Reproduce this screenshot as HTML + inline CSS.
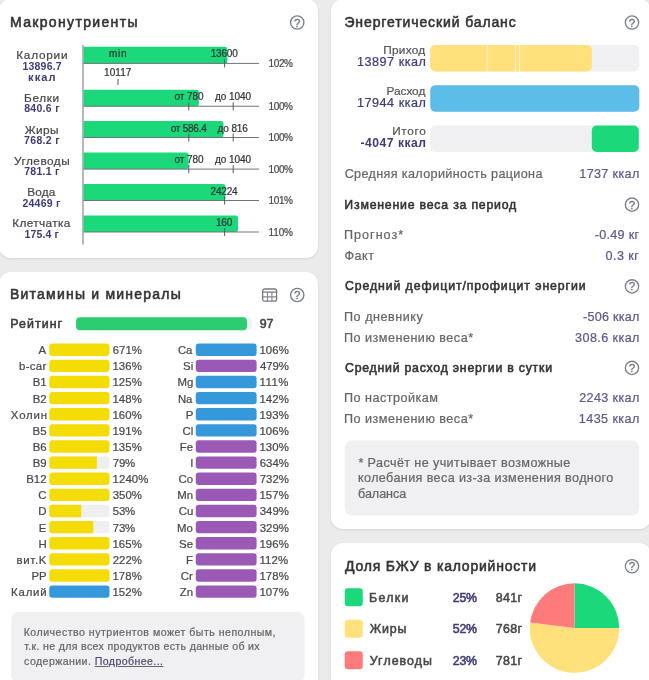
<!DOCTYPE html><html lang="ru"><head><meta charset="utf-8"><title>Статистика</title><style>
html,body{margin:0;padding:0;}
body{width:649px;height:680px;overflow:hidden;background:#ebebeb;font-family:"Liberation Sans", sans-serif;position:relative;}
.t{position:absolute;white-space:nowrap;line-height:1;}
.help{position:absolute;width:14px;height:14px;font-size:11.6px;line-height:14.6px;text-align:center;color:#6f747c;-webkit-text-stroke:0.3px #6f747c;}
</style></head><body>
<div style="position:absolute;left:-1.50px;top:-1.50px;width:319.25px;height:259.50px;background:#fff;border-radius:12px;box-shadow:0 1px 2.5px rgba(0,0,0,0.10);"></div>
<div style="position:absolute;left:331.00px;top:-1.50px;width:319.50px;height:530.25px;background:#fff;border-radius:12px;box-shadow:0 1px 2.5px rgba(0,0,0,0.10);"></div>
<div style="position:absolute;left:-1.50px;top:272.00px;width:319.25px;height:428.00px;background:#fff;border-radius:12px;box-shadow:0 1px 2.5px rgba(0,0,0,0.10);"></div>
<div style="position:absolute;left:331.00px;top:542.80px;width:319.50px;height:157.20px;background:#fff;border-radius:12px;box-shadow:0 1px 2.5px rgba(0,0,0,0.10);"></div>
<svg style="position:absolute;left:0;top:0" width="649" height="680" viewBox="0 0 649 680"><circle cx="297.25" cy="22.50" r="6.65" fill="none" stroke="#7b8088" stroke-width="1.35"/><rect x="82.50" y="45.00" width="1.00" height="199.50" fill="#72747c"/><path d="M83.50 46.80H224.85A2.5 2.5 0 0 1 227.35 49.30V60.90A2.5 2.5 0 0 1 224.85 63.40H83.50V46.80Z" fill="#1bd97b"/><rect x="83.50" y="62.90" width="175.50" height="1.00" fill="#72747c"/><path d="M83.50 89.65H196.40A2.5 2.5 0 0 1 198.90 92.15V103.75A2.5 2.5 0 0 1 196.40 106.25H83.50V89.65Z" fill="#1bd97b"/><rect x="83.50" y="105.75" width="175.50" height="1.00" fill="#72747c"/><path d="M83.50 120.90H221.00A2.5 2.5 0 0 1 223.50 123.40V135.00A2.5 2.5 0 0 1 221.00 137.50H83.50V120.90Z" fill="#1bd97b"/><rect x="83.50" y="137.00" width="175.50" height="1.00" fill="#72747c"/><path d="M83.50 152.50H186.10A2.5 2.5 0 0 1 188.60 155.00V166.60A2.5 2.5 0 0 1 186.10 169.10H83.50V152.50Z" fill="#1bd97b"/><rect x="83.50" y="168.60" width="175.50" height="1.00" fill="#72747c"/><path d="M83.50 183.90H223.00A2.5 2.5 0 0 1 225.50 186.40V198.00A2.5 2.5 0 0 1 223.00 200.50H83.50V183.90Z" fill="#1bd97b"/><rect x="83.50" y="200.00" width="175.50" height="1.00" fill="#72747c"/><path d="M83.50 215.40H235.50A2.5 2.5 0 0 1 238.00 217.90V229.50A2.5 2.5 0 0 1 235.50 232.00H83.50V215.40Z" fill="#1bd97b"/><rect x="83.50" y="231.50" width="175.50" height="1.00" fill="#72747c"/><rect x="224.10" y="59.40" width="1.00" height="8.00" fill="#585a64"/><rect x="117.50" y="78.75" width="1.00" height="6.25" fill="#585a64"/><rect x="188.30" y="102.25" width="1.00" height="8.00" fill="#585a64"/><rect x="232.70" y="102.25" width="1.00" height="8.00" fill="#585a64"/><rect x="188.30" y="133.50" width="1.00" height="8.00" fill="#585a64"/><rect x="232.70" y="133.50" width="1.00" height="8.00" fill="#585a64"/><rect x="188.30" y="165.10" width="1.00" height="8.00" fill="#585a64"/><rect x="232.70" y="165.10" width="1.00" height="8.00" fill="#585a64"/><rect x="224.10" y="196.50" width="1.00" height="8.00" fill="#585a64"/><rect x="224.10" y="228.00" width="1.00" height="8.00" fill="#585a64"/><circle cx="297.25" cy="295.00" r="6.65" fill="none" stroke="#7b8088" stroke-width="1.35"/><rect x="76.10" y="317.30" width="175.90" height="12.90" rx="4" fill="#f2f2f2"/><rect x="76.10" y="317.30" width="170.90" height="12.90" rx="4" fill="#2ecc71"/><rect x="49.25" y="343.50" width="60.25" height="12.40" rx="3" fill="#f4dd06"/><rect x="49.25" y="359.63" width="60.25" height="12.40" rx="3" fill="#f4dd06"/><rect x="49.25" y="375.76" width="60.25" height="12.40" rx="3" fill="#f4dd06"/><rect x="49.25" y="391.89" width="60.25" height="12.40" rx="3" fill="#f4dd06"/><rect x="49.25" y="408.02" width="60.25" height="12.40" rx="3" fill="#f4dd06"/><rect x="49.25" y="424.15" width="60.25" height="12.40" rx="3" fill="#f4dd06"/><rect x="49.25" y="440.28" width="60.25" height="12.40" rx="3" fill="#f4dd06"/><rect x="49.25" y="456.41" width="60.25" height="12.40" rx="3" fill="#efefef"/><path d="M52.25 456.41H96.85V468.81H52.25A3.0 3.0 0 0 1 49.25 465.81V459.41A3.0 3.0 0 0 1 52.25 456.41Z" fill="#f4dd06"/><rect x="49.25" y="472.54" width="60.25" height="12.40" rx="3" fill="#f4dd06"/><rect x="49.25" y="488.67" width="60.25" height="12.40" rx="3" fill="#f4dd06"/><rect x="49.25" y="504.80" width="60.25" height="12.40" rx="3" fill="#efefef"/><path d="M52.25 504.80H81.18V517.20H52.25A3.0 3.0 0 0 1 49.25 514.20V507.80A3.0 3.0 0 0 1 52.25 504.80Z" fill="#f4dd06"/><rect x="49.25" y="520.93" width="60.25" height="12.40" rx="3" fill="#efefef"/><path d="M52.25 520.93H93.23V533.33H52.25A3.0 3.0 0 0 1 49.25 530.33V523.93A3.0 3.0 0 0 1 52.25 520.93Z" fill="#f4dd06"/><rect x="49.25" y="537.06" width="60.25" height="12.40" rx="3" fill="#f4dd06"/><rect x="49.25" y="553.19" width="60.25" height="12.40" rx="3" fill="#f4dd06"/><rect x="49.25" y="569.32" width="60.25" height="12.40" rx="3" fill="#f4dd06"/><rect x="49.25" y="585.45" width="60.25" height="12.40" rx="3" fill="#3498db"/><rect x="195.75" y="343.50" width="60.85" height="12.40" rx="3" fill="#3498db"/><rect x="195.75" y="359.63" width="60.85" height="12.40" rx="3" fill="#9b59b6"/><rect x="195.75" y="375.76" width="60.85" height="12.40" rx="3" fill="#3498db"/><rect x="195.75" y="391.89" width="60.85" height="12.40" rx="3" fill="#3498db"/><rect x="195.75" y="408.02" width="60.85" height="12.40" rx="3" fill="#3498db"/><rect x="195.75" y="424.15" width="60.85" height="12.40" rx="3" fill="#3498db"/><rect x="195.75" y="440.28" width="60.85" height="12.40" rx="3" fill="#9b59b6"/><rect x="195.75" y="456.41" width="60.85" height="12.40" rx="3" fill="#9b59b6"/><rect x="195.75" y="472.54" width="60.85" height="12.40" rx="3" fill="#9b59b6"/><rect x="195.75" y="488.67" width="60.85" height="12.40" rx="3" fill="#9b59b6"/><rect x="195.75" y="504.80" width="60.85" height="12.40" rx="3" fill="#9b59b6"/><rect x="195.75" y="520.93" width="60.85" height="12.40" rx="3" fill="#9b59b6"/><rect x="195.75" y="537.06" width="60.85" height="12.40" rx="3" fill="#9b59b6"/><rect x="195.75" y="553.19" width="60.85" height="12.40" rx="3" fill="#9b59b6"/><rect x="195.75" y="569.32" width="60.85" height="12.40" rx="3" fill="#9b59b6"/><rect x="195.75" y="585.45" width="60.85" height="12.40" rx="3" fill="#9b59b6"/><rect x="11.00" y="612.00" width="293.50" height="70.00" rx="7" fill="#f0f0f2"/><circle cx="632.00" cy="22.50" r="6.65" fill="none" stroke="#7b8088" stroke-width="1.35"/><rect x="430.25" y="45.00" width="209.05" height="26.50" rx="5" fill="#f0f0f2"/><rect x="430.25" y="85.25" width="209.05" height="26.50" rx="5" fill="#f0f0f2"/><rect x="430.25" y="125.50" width="209.05" height="26.50" rx="5" fill="#f0f0f2"/><rect x="430.25" y="45.00" width="161.55" height="26.50" rx="5" fill="#ffe07a"/><rect x="486.70" y="45.00" width="0.80" height="26.50" fill="rgba(255,255,255,0.85)"/><rect x="515.30" y="45.00" width="0.80" height="26.50" fill="rgba(255,255,255,0.85)"/><rect x="519.20" y="45.00" width="0.80" height="26.50" fill="rgba(255,255,255,0.85)"/><rect x="430.25" y="85.25" width="209.05" height="26.50" rx="5" fill="#5bbde8"/><rect x="591.80" y="125.50" width="47.00" height="26.50" rx="5" fill="#1bd97b"/><circle cx="632.00" cy="204.65" r="6.65" fill="none" stroke="#7b8088" stroke-width="1.35"/><circle cx="632.00" cy="286.40" r="6.65" fill="none" stroke="#7b8088" stroke-width="1.35"/><circle cx="632.00" cy="367.90" r="6.65" fill="none" stroke="#7b8088" stroke-width="1.35"/><rect x="344.75" y="440.60" width="294.45" height="74.80" rx="7" fill="#f0f0f2"/><circle cx="632.00" cy="566.25" r="6.65" fill="none" stroke="#7b8088" stroke-width="1.35"/><rect x="344.75" y="588.25" width="18.00" height="18.00" rx="3" fill="#1bd97b"/><rect x="344.75" y="619.75" width="18.00" height="18.00" rx="3" fill="#ffe07a"/><rect x="344.75" y="651.25" width="18.00" height="18.00" rx="3" fill="#ff7b7b"/><path d="M574.5 628.1L574.50 583.35A44.75 44.75 0 0 1 619.25 628.10Z" fill="#1bd97b"/><path d="M574.5 628.1L619.25 628.10A44.75 44.75 0 1 1 530.10 622.49Z" fill="#ffe07a"/><path d="M574.5 628.1L530.10 622.49A44.75 44.75 0 0 1 574.50 583.35Z" fill="#ff7b7b"/></svg>
<div class="help" style="left:290.25px;top:15.50px;">?</div>
<div class="help" style="left:290.25px;top:288.00px;">?</div>
<svg style="position:absolute;left:261px;top:287px" width="17" height="16" viewBox="0 0 17 16" fill="none" stroke="#777a80" stroke-width="1.3"><path d="M1.6 9.9H15.6M6.5 5.1V14.2M10.9 5.1V14.2" stroke="#83858b" stroke-width="1.1"/><rect x="1.6" y="2" width="14" height="12.2" rx="2"/><path d="M1.6 5.1H15.6"/></svg>
<div class="help" style="left:625.00px;top:15.50px;">?</div>
<div class="help" style="left:625.00px;top:197.65px;">?</div>
<div class="help" style="left:625.00px;top:279.40px;">?</div>
<div class="help" style="left:625.00px;top:360.90px;">?</div>
<div class="help" style="left:625.00px;top:559.25px;">?</div>
<div class="t" style="left:10.00px;top:15.00px;font-size:14px;color:#333;-webkit-text-stroke:0.55px #333;letter-spacing:1.338px;">Макронутриенты</div>
<div class="t" style="left:268.55px;top:59.00px;font-size:10px;color:#484848;-webkit-text-stroke:0.22px #484848;letter-spacing:-0.381px;">102%</div>
<div class="t" style="left:268.55px;top:102.00px;font-size:10px;color:#484848;-webkit-text-stroke:0.22px #484848;letter-spacing:-0.381px;">100%</div>
<div class="t" style="left:268.55px;top:133.00px;font-size:10px;color:#484848;-webkit-text-stroke:0.22px #484848;letter-spacing:-0.381px;">100%</div>
<div class="t" style="left:268.55px;top:165.00px;font-size:10px;color:#484848;-webkit-text-stroke:0.22px #484848;letter-spacing:-0.381px;">100%</div>
<div class="t" style="left:268.55px;top:196.00px;font-size:10px;color:#484848;-webkit-text-stroke:0.22px #484848;letter-spacing:-0.381px;">101%</div>
<div class="t" style="left:268.55px;top:228.00px;font-size:10px;color:#484848;-webkit-text-stroke:0.22px #484848;letter-spacing:-0.137px;">110%</div>
<div class="t" style="left:210.70px;top:49.00px;font-size:10px;color:#333;-webkit-text-stroke:0.22px #333;letter-spacing:-0.196px;">13600</div>
<div class="t" style="left:108.92px;top:49.00px;font-size:10px;color:#333;-webkit-text-stroke:0.22px #333;letter-spacing:0.780px;">min</div>
<div class="t" style="left:104.07px;top:68.00px;font-size:10px;color:#333;-webkit-text-stroke:0.22px #333;letter-spacing:0.073px;">10117</div>
<div class="t" style="left:174.41px;top:92.00px;font-size:10px;color:#333;-webkit-text-stroke:0.22px #333;letter-spacing:-0.027px;">от 780</div>
<div class="t" style="left:215.05px;top:92.00px;font-size:10px;color:#333;-webkit-text-stroke:0.22px #333;letter-spacing:-0.083px;">до 1040</div>
<div class="t" style="left:170.66px;top:124.00px;font-size:10px;color:#333;-webkit-text-stroke:0.22px #333;letter-spacing:-0.234px;">от 586.4</div>
<div class="t" style="left:217.47px;top:124.00px;font-size:10px;color:#333;-webkit-text-stroke:0.22px #333;letter-spacing:-0.086px;">до 816</div>
<div class="t" style="left:174.41px;top:155.00px;font-size:10px;color:#333;-webkit-text-stroke:0.22px #333;letter-spacing:-0.027px;">от 780</div>
<div class="t" style="left:215.05px;top:155.00px;font-size:10px;color:#333;-webkit-text-stroke:0.22px #333;letter-spacing:-0.083px;">до 1040</div>
<div class="t" style="left:210.60px;top:187.00px;font-size:10px;color:#333;-webkit-text-stroke:0.22px #333;letter-spacing:-0.211px;">24224</div>
<div class="t" style="left:216.05px;top:218.00px;font-size:10px;color:#333;-webkit-text-stroke:0.22px #333;letter-spacing:-0.263px;">160</div>
<div class="t" style="left:16.24px;top:50.00px;font-size:11.8px;color:#484848;-webkit-text-stroke:0.22px #484848;letter-spacing:0.760px;">Калории</div>
<div class="t" style="left:22.46px;top:61.00px;font-size:10.5px;color:#3d3b7a;font-weight:700;letter-spacing:0.205px;">13896.7</div>
<div class="t" style="left:28.11px;top:72.00px;font-size:11.1px;color:#3d3b7a;font-weight:700;letter-spacing:1.064px;">ккал</div>
<div class="t" style="left:24.12px;top:93.00px;font-size:11.8px;color:#484848;-webkit-text-stroke:0.22px #484848;letter-spacing:0.627px;">Белки</div>
<div class="t" style="left:24.17px;top:103.00px;font-size:10.5px;color:#3d3b7a;font-weight:700;letter-spacing:0.312px;">840.6 г</div>
<div class="t" style="left:24.81px;top:125.00px;font-size:11.8px;color:#484848;-webkit-text-stroke:0.22px #484848;letter-spacing:0.362px;">Жиры</div>
<div class="t" style="left:24.04px;top:135.00px;font-size:10.5px;color:#3d3b7a;font-weight:700;letter-spacing:0.333px;">768.2 г</div>
<div class="t" style="left:14.00px;top:156.00px;font-size:11.8px;color:#484848;-webkit-text-stroke:0.22px #484848;letter-spacing:0.490px;">Углеводы</div>
<div class="t" style="left:24.17px;top:166.00px;font-size:10.5px;color:#3d3b7a;font-weight:700;letter-spacing:0.291px;">781.1 г</div>
<div class="t" style="left:27.24px;top:187.00px;font-size:11.8px;color:#484848;-webkit-text-stroke:0.22px #484848;letter-spacing:0.145px;">Вода</div>
<div class="t" style="left:22.40px;top:198.00px;font-size:10.5px;color:#3d3b7a;font-weight:700;letter-spacing:0.267px;">24469 г</div>
<div class="t" style="left:12.24px;top:218.00px;font-size:11.8px;color:#484848;-webkit-text-stroke:0.22px #484848;letter-spacing:0.377px;">Клетчатка</div>
<div class="t" style="left:24.44px;top:229.00px;font-size:10.5px;color:#3d3b7a;font-weight:700;letter-spacing:0.154px;">175.4 г</div>
<div class="t" style="left:10.00px;top:287.00px;font-size:14px;color:#333;-webkit-text-stroke:0.55px #333;letter-spacing:1.222px;">Витамины и минералы</div>
<div class="t" style="left:10.37px;top:318.00px;font-size:12.4px;color:#3a3a3a;-webkit-text-stroke:0.55px #3a3a3a;letter-spacing:1.039px;">Рейтинг</div>
<div class="t" style="left:259.69px;top:318.00px;font-size:12.4px;color:#444;-webkit-text-stroke:0.55px #444;letter-spacing:-0.022px;">97</div>
<div class="t" style="left:38.49px;top:345.00px;font-size:11.4px;color:#484848;-webkit-text-stroke:0.22px #484848;">A</div>
<div class="t" style="left:112.75px;top:345.00px;font-size:11.4px;color:#484848;-webkit-text-stroke:0.22px #484848;letter-spacing:0.002px;">671%</div>
<div class="t" style="left:19.09px;top:361.00px;font-size:11.4px;color:#484848;-webkit-text-stroke:0.22px #484848;letter-spacing:0.290px;">b-car</div>
<div class="t" style="left:112.43px;top:361.00px;font-size:11.4px;color:#484848;-webkit-text-stroke:0.22px #484848;letter-spacing:0.108px;">136%</div>
<div class="t" style="left:32.66px;top:377.00px;font-size:11.4px;color:#484848;-webkit-text-stroke:0.22px #484848;">B1</div>
<div class="t" style="left:112.43px;top:377.00px;font-size:11.4px;color:#484848;-webkit-text-stroke:0.22px #484848;letter-spacing:0.108px;">125%</div>
<div class="t" style="left:32.67px;top:394.00px;font-size:11.4px;color:#484848;-webkit-text-stroke:0.22px #484848;">B2</div>
<div class="t" style="left:112.43px;top:394.00px;font-size:11.4px;color:#484848;-webkit-text-stroke:0.22px #484848;letter-spacing:0.108px;">148%</div>
<div class="t" style="left:10.83px;top:410.00px;font-size:11.4px;color:#484848;-webkit-text-stroke:0.22px #484848;letter-spacing:0.855px;">Холин</div>
<div class="t" style="left:112.43px;top:410.00px;font-size:11.4px;color:#484848;-webkit-text-stroke:0.22px #484848;letter-spacing:0.108px;">160%</div>
<div class="t" style="left:32.59px;top:426.00px;font-size:11.4px;color:#484848;-webkit-text-stroke:0.22px #484848;">B5</div>
<div class="t" style="left:112.43px;top:426.00px;font-size:11.4px;color:#484848;-webkit-text-stroke:0.22px #484848;letter-spacing:0.108px;">191%</div>
<div class="t" style="left:32.63px;top:442.00px;font-size:11.4px;color:#484848;-webkit-text-stroke:0.22px #484848;">B6</div>
<div class="t" style="left:112.43px;top:442.00px;font-size:11.4px;color:#484848;-webkit-text-stroke:0.22px #484848;letter-spacing:0.108px;">135%</div>
<div class="t" style="left:32.64px;top:458.00px;font-size:11.4px;color:#484848;-webkit-text-stroke:0.22px #484848;">B9</div>
<div class="t" style="left:112.74px;top:458.00px;font-size:11.4px;color:#484848;-webkit-text-stroke:0.22px #484848;letter-spacing:-0.145px;">79%</div>
<div class="t" style="left:26.25px;top:474.00px;font-size:11.4px;color:#484848;-webkit-text-stroke:0.22px #484848;">B12</div>
<div class="t" style="left:112.43px;top:474.00px;font-size:11.4px;color:#484848;-webkit-text-stroke:0.22px #484848;letter-spacing:0.144px;">1240%</div>
<div class="t" style="left:38.35px;top:490.00px;font-size:11.4px;color:#484848;-webkit-text-stroke:0.22px #484848;">C</div>
<div class="t" style="left:112.68px;top:490.00px;font-size:11.4px;color:#484848;-webkit-text-stroke:0.22px #484848;letter-spacing:0.022px;">350%</div>
<div class="t" style="left:38.25px;top:506.00px;font-size:11.4px;color:#484848;-webkit-text-stroke:0.22px #484848;">D</div>
<div class="t" style="left:112.76px;top:506.00px;font-size:11.4px;color:#484848;-webkit-text-stroke:0.22px #484848;letter-spacing:-0.154px;">53%</div>
<div class="t" style="left:38.84px;top:523.00px;font-size:11.4px;color:#484848;-webkit-text-stroke:0.22px #484848;">E</div>
<div class="t" style="left:112.74px;top:523.00px;font-size:11.4px;color:#484848;-webkit-text-stroke:0.22px #484848;letter-spacing:-0.145px;">73%</div>
<div class="t" style="left:38.60px;top:539.00px;font-size:11.4px;color:#484848;-webkit-text-stroke:0.22px #484848;">H</div>
<div class="t" style="left:112.43px;top:539.00px;font-size:11.4px;color:#484848;-webkit-text-stroke:0.22px #484848;letter-spacing:0.108px;">165%</div>
<div class="t" style="left:16.54px;top:555.00px;font-size:11.4px;color:#484848;-webkit-text-stroke:0.22px #484848;letter-spacing:0.684px;">вит.K</div>
<div class="t" style="left:112.76px;top:555.00px;font-size:11.4px;color:#484848;-webkit-text-stroke:0.22px #484848;letter-spacing:-0.002px;">222%</div>
<div class="t" style="left:31.44px;top:571.00px;font-size:11.4px;color:#484848;-webkit-text-stroke:0.22px #484848;">PP</div>
<div class="t" style="left:112.43px;top:571.00px;font-size:11.4px;color:#484848;-webkit-text-stroke:0.22px #484848;letter-spacing:0.108px;">178%</div>
<div class="t" style="left:11.07px;top:587.00px;font-size:11.4px;color:#484848;-webkit-text-stroke:0.22px #484848;letter-spacing:0.807px;">Калий</div>
<div class="t" style="left:112.43px;top:587.00px;font-size:11.4px;color:#484848;-webkit-text-stroke:0.22px #484848;letter-spacing:0.108px;">152%</div>
<div class="t" style="left:177.90px;top:345.00px;font-size:11.4px;color:#484848;-webkit-text-stroke:0.22px #484848;">Ca</div>
<div class="t" style="left:259.43px;top:345.00px;font-size:11.4px;color:#484848;-webkit-text-stroke:0.22px #484848;letter-spacing:0.108px;">106%</div>
<div class="t" style="left:183.10px;top:361.00px;font-size:11.4px;color:#484848;-webkit-text-stroke:0.22px #484848;">Si</div>
<div class="t" style="left:260.00px;top:361.00px;font-size:11.4px;color:#484848;-webkit-text-stroke:0.22px #484848;letter-spacing:-0.083px;">479%</div>
<div class="t" style="left:177.42px;top:377.00px;font-size:11.4px;color:#484848;-webkit-text-stroke:0.22px #484848;">Mg</div>
<div class="t" style="left:259.43px;top:377.00px;font-size:11.4px;color:#484848;-webkit-text-stroke:0.22px #484848;letter-spacing:0.491px;">111%</div>
<div class="t" style="left:177.90px;top:394.00px;font-size:11.4px;color:#484848;-webkit-text-stroke:0.22px #484848;">Na</div>
<div class="t" style="left:259.43px;top:394.00px;font-size:11.4px;color:#484848;-webkit-text-stroke:0.22px #484848;letter-spacing:0.108px;">142%</div>
<div class="t" style="left:185.75px;top:410.00px;font-size:11.4px;color:#484848;-webkit-text-stroke:0.22px #484848;">P</div>
<div class="t" style="left:259.43px;top:410.00px;font-size:11.4px;color:#484848;-webkit-text-stroke:0.22px #484848;letter-spacing:0.108px;">193%</div>
<div class="t" style="left:182.55px;top:426.00px;font-size:11.4px;color:#484848;-webkit-text-stroke:0.22px #484848;">Cl</div>
<div class="t" style="left:259.43px;top:426.00px;font-size:11.4px;color:#484848;-webkit-text-stroke:0.22px #484848;letter-spacing:0.108px;">106%</div>
<div class="t" style="left:179.75px;top:442.00px;font-size:11.4px;color:#484848;-webkit-text-stroke:0.22px #484848;">Fe</div>
<div class="t" style="left:259.43px;top:442.00px;font-size:11.4px;color:#484848;-webkit-text-stroke:0.22px #484848;letter-spacing:0.108px;">130%</div>
<div class="t" style="left:190.32px;top:458.00px;font-size:11.4px;color:#484848;-webkit-text-stroke:0.22px #484848;">I</div>
<div class="t" style="left:259.75px;top:458.00px;font-size:11.4px;color:#484848;-webkit-text-stroke:0.22px #484848;letter-spacing:0.002px;">634%</div>
<div class="t" style="left:178.50px;top:474.00px;font-size:11.4px;color:#484848;-webkit-text-stroke:0.22px #484848;">Co</div>
<div class="t" style="left:259.74px;top:474.00px;font-size:11.4px;color:#484848;-webkit-text-stroke:0.22px #484848;letter-spacing:0.004px;">732%</div>
<div class="t" style="left:177.35px;top:490.00px;font-size:11.4px;color:#484848;-webkit-text-stroke:0.22px #484848;">Mn</div>
<div class="t" style="left:259.43px;top:490.00px;font-size:11.4px;color:#484848;-webkit-text-stroke:0.22px #484848;letter-spacing:0.108px;">157%</div>
<div class="t" style="left:178.75px;top:506.00px;font-size:11.4px;color:#484848;-webkit-text-stroke:0.22px #484848;">Cu</div>
<div class="t" style="left:259.68px;top:506.00px;font-size:11.4px;color:#484848;-webkit-text-stroke:0.22px #484848;letter-spacing:0.022px;">349%</div>
<div class="t" style="left:177.12px;top:523.00px;font-size:11.4px;color:#484848;-webkit-text-stroke:0.22px #484848;">Mo</div>
<div class="t" style="left:259.68px;top:523.00px;font-size:11.4px;color:#484848;-webkit-text-stroke:0.22px #484848;letter-spacing:0.022px;">329%</div>
<div class="t" style="left:179.07px;top:539.00px;font-size:11.4px;color:#484848;-webkit-text-stroke:0.22px #484848;">Se</div>
<div class="t" style="left:259.43px;top:539.00px;font-size:11.4px;color:#484848;-webkit-text-stroke:0.22px #484848;letter-spacing:0.108px;">196%</div>
<div class="t" style="left:185.90px;top:555.00px;font-size:11.4px;color:#484848;-webkit-text-stroke:0.22px #484848;">F</div>
<div class="t" style="left:259.43px;top:555.00px;font-size:11.4px;color:#484848;-webkit-text-stroke:0.22px #484848;letter-spacing:0.158px;">112%</div>
<div class="t" style="left:180.75px;top:571.00px;font-size:11.4px;color:#484848;-webkit-text-stroke:0.22px #484848;">Cr</div>
<div class="t" style="left:259.43px;top:571.00px;font-size:11.4px;color:#484848;-webkit-text-stroke:0.22px #484848;letter-spacing:0.108px;">178%</div>
<div class="t" style="left:179.79px;top:587.00px;font-size:11.4px;color:#484848;-webkit-text-stroke:0.22px #484848;">Zn</div>
<div class="t" style="left:259.43px;top:587.00px;font-size:11.4px;color:#484848;-webkit-text-stroke:0.22px #484848;letter-spacing:0.108px;">107%</div>
<div class="t" style="left:23.70px;top:627.00px;font-size:10.6px;color:#666;-webkit-text-stroke:0.22px #666;letter-spacing:0.483px;">Количество нутриентов может быть неполным,</div>
<div class="t" style="left:24.25px;top:641.00px;font-size:10.6px;color:#666;-webkit-text-stroke:0.22px #666;letter-spacing:0.331px;">т.к. не для всех продуктов есть данные об их</div>
<div class="t" style="left:24.10px;top:656.00px;font-size:10.6px;color:#666;-webkit-text-stroke:0.22px #666;letter-spacing:0.416px;">содержании. <span style="color:#3d3b7a;text-decoration:underline">Подробнее...</span></div>
<div class="t" style="left:344.43px;top:15.00px;font-size:14px;color:#333;-webkit-text-stroke:0.55px #333;letter-spacing:0.884px;">Энергетический баланс</div>
<div class="t" style="left:383.28px;top:45.00px;font-size:11.8px;color:#555;-webkit-text-stroke:0.22px #555;letter-spacing:0.264px;">Приход</div>
<div class="t" style="left:357.03px;top:56.00px;font-size:12.6px;color:#3d3b7a;-webkit-text-stroke:0.22px #3d3b7a;letter-spacing:0.517px;">13897 ккал</div>
<div class="t" style="left:386.54px;top:86.00px;font-size:11.8px;color:#555;-webkit-text-stroke:0.22px #555;letter-spacing:-0.028px;">Расход</div>
<div class="t" style="left:357.03px;top:97.00px;font-size:12.6px;color:#3d3b7a;-webkit-text-stroke:0.22px #3d3b7a;letter-spacing:0.517px;">17944 ккал</div>
<div class="t" style="left:392.14px;top:126.00px;font-size:11.8px;color:#555;-webkit-text-stroke:0.22px #555;letter-spacing:0.669px;">Итого</div>
<div class="t" style="left:360.49px;top:137.00px;font-size:12.1px;color:#3d3b7a;font-weight:700;letter-spacing:0.529px;">-4047 ккал</div>
<div class="t" style="left:344.67px;top:168.00px;font-size:12.6px;color:#666;-webkit-text-stroke:0.22px #666;letter-spacing:0.364px;">Средняя калорийность рациона</div>
<div class="t" style="left:579.28px;top:168.00px;font-size:12.6px;color:#5b5a8e;-webkit-text-stroke:0.22px #5b5a8e;letter-spacing:0.363px;">1737 ккал</div>
<div class="t" style="left:344.37px;top:199.00px;font-size:12.3px;color:#333;-webkit-text-stroke:0.55px #333;letter-spacing:0.788px;">Изменение веса за период</div>
<div class="t" style="left:344.00px;top:229.00px;font-size:12.6px;color:#666;-webkit-text-stroke:0.22px #666;letter-spacing:1.000px;">Прогноз*</div>
<div class="t" style="left:594.82px;top:229.00px;font-size:12.6px;color:#5b5a8e;-webkit-text-stroke:0.22px #5b5a8e;letter-spacing:0.275px;">-0.49 кг</div>
<div class="t" style="left:344.59px;top:250.00px;font-size:12.6px;color:#666;-webkit-text-stroke:0.22px #666;letter-spacing:0.471px;">Факт</div>
<div class="t" style="left:605.60px;top:250.00px;font-size:12.6px;color:#5b5a8e;-webkit-text-stroke:0.22px #5b5a8e;letter-spacing:0.430px;">0.3 кг</div>
<div class="t" style="left:344.99px;top:280.00px;font-size:12.3px;color:#333;-webkit-text-stroke:0.55px #333;letter-spacing:0.903px;">Средний дефицит/профицит энергии</div>
<div class="t" style="left:344.00px;top:311.00px;font-size:12.6px;color:#666;-webkit-text-stroke:0.22px #666;letter-spacing:0.528px;">По дневнику</div>
<div class="t" style="left:583.07px;top:311.00px;font-size:12.6px;color:#5b5a8e;-webkit-text-stroke:0.22px #5b5a8e;letter-spacing:0.230px;">-506 ккал</div>
<div class="t" style="left:344.00px;top:332.00px;font-size:12.6px;color:#666;-webkit-text-stroke:0.22px #666;letter-spacing:0.493px;">По изменению веса*</div>
<div class="t" style="left:575.09px;top:332.00px;font-size:12.6px;color:#5b5a8e;-webkit-text-stroke:0.22px #5b5a8e;letter-spacing:0.407px;">308.6 ккал</div>
<div class="t" style="left:344.99px;top:362.00px;font-size:12.3px;color:#333;-webkit-text-stroke:0.55px #333;letter-spacing:0.762px;">Средний расход энергии в сутки</div>
<div class="t" style="left:344.00px;top:392.00px;font-size:12.6px;color:#666;-webkit-text-stroke:0.22px #666;letter-spacing:0.488px;">По настройкам</div>
<div class="t" style="left:579.19px;top:392.00px;font-size:12.6px;color:#5b5a8e;-webkit-text-stroke:0.22px #5b5a8e;letter-spacing:0.374px;">2243 ккал</div>
<div class="t" style="left:344.00px;top:413.00px;font-size:12.6px;color:#666;-webkit-text-stroke:0.22px #666;letter-spacing:0.493px;">По изменению веса*</div>
<div class="t" style="left:578.78px;top:413.00px;font-size:12.6px;color:#5b5a8e;-webkit-text-stroke:0.22px #5b5a8e;letter-spacing:0.426px;">1435 ккал</div>
<div class="t" style="left:358.43px;top:457.00px;font-size:12.6px;color:#666;-webkit-text-stroke:0.22px #666;letter-spacing:0.392px;">* Расчёт не учитывает возможные</div>
<div class="t" style="left:357.99px;top:472.00px;font-size:12.6px;color:#666;-webkit-text-stroke:0.22px #666;letter-spacing:0.384px;">колебания веса из-за изменения водного</div>
<div class="t" style="left:358.09px;top:488.00px;font-size:12.6px;color:#666;-webkit-text-stroke:0.22px #666;letter-spacing:-0.070px;">баланса</div>
<div class="t" style="left:344.99px;top:559.00px;font-size:14px;color:#333;-webkit-text-stroke:0.55px #333;letter-spacing:0.785px;">Доля БЖУ в калорийности</div>
<div class="t" style="left:369.12px;top:592.00px;font-size:12.4px;color:#484848;-webkit-text-stroke:0.55px #484848;letter-spacing:1.287px;">Белки</div>
<div class="t" style="left:452.75px;top:592.00px;font-size:12.4px;color:#3d3b7a;-webkit-text-stroke:0.55px #3d3b7a;letter-spacing:-0.218px;">25%</div>
<div class="t" style="left:495.75px;top:592.00px;font-size:12.4px;color:#484848;-webkit-text-stroke:0.55px #484848;letter-spacing:0.335px;">841г</div>
<div class="t" style="left:369.75px;top:623.00px;font-size:12.4px;color:#484848;-webkit-text-stroke:0.55px #484848;letter-spacing:0.844px;">Жиры</div>
<div class="t" style="left:452.70px;top:623.00px;font-size:12.4px;color:#3d3b7a;-webkit-text-stroke:0.55px #3d3b7a;letter-spacing:-0.194px;">52%</div>
<div class="t" style="left:495.75px;top:623.00px;font-size:12.4px;color:#484848;-webkit-text-stroke:0.55px #484848;letter-spacing:0.335px;">768г</div>
<div class="t" style="left:369.75px;top:655.00px;font-size:12.4px;color:#484848;-webkit-text-stroke:0.55px #484848;letter-spacing:1.037px;">Углеводы</div>
<div class="t" style="left:452.75px;top:655.00px;font-size:12.4px;color:#3d3b7a;-webkit-text-stroke:0.55px #3d3b7a;letter-spacing:-0.218px;">23%</div>
<div class="t" style="left:495.75px;top:655.00px;font-size:12.4px;color:#484848;-webkit-text-stroke:0.55px #484848;letter-spacing:0.335px;">781г</div>
</body></html>
